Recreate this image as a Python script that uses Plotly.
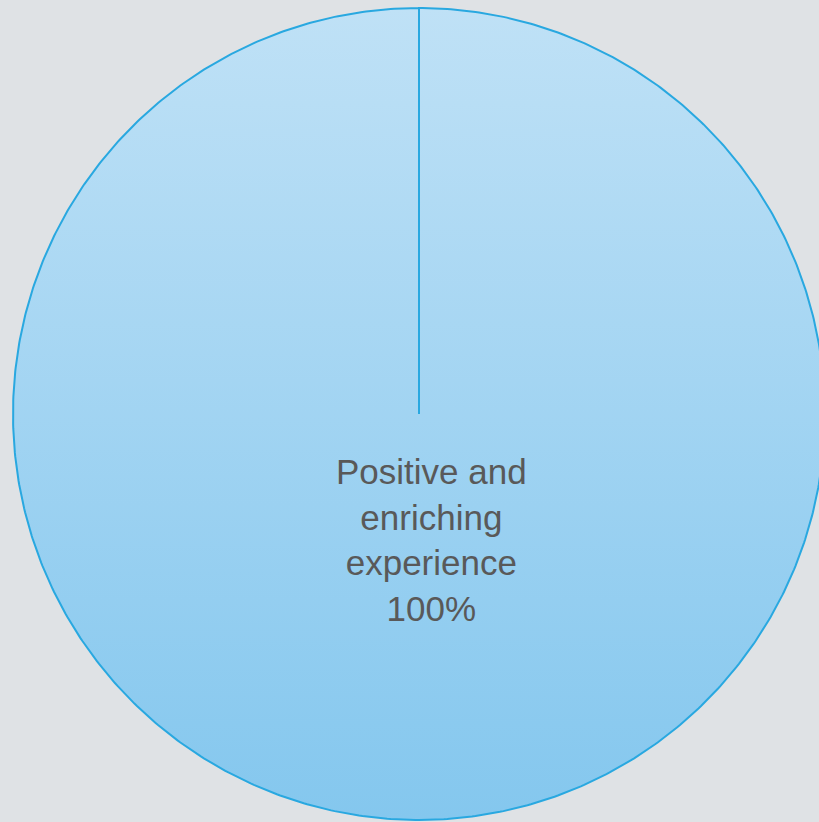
import numpy as np
import plotly.graph_objects as go

# Survey result: a single category holding the whole share
categories = ["Positive and enriching experience"]
shares = [100]
label_lines = ["Positive and", "enriching", "experience"]

W, H = 819, 822
CX, CY, R = 419, H - 414, 406  # pie centre and radius (pixel-sized units)
BG = "#dfe2e5"
EDGE = "#29a8e0"
TEXT = "#595959"

fig = go.Figure()

total = float(sum(shares))
start = 0.0
for cat, val in zip(categories, shares):
    frac = val / total
    # clockwise sweep from 12 o'clock
    theta = np.deg2rad(90 - 360 * np.linspace(start, start + frac, 721))
    xs = np.concatenate([[CX], CX + R * np.cos(theta), [CX]])
    ys = np.concatenate([[CY], CY + R * np.sin(theta), [CY]])
    fig.add_trace(go.Scatter(
        x=xs, y=ys, mode="lines", fill="toself",
        line=dict(color=EDGE, width=2),
        fillgradient=dict(type="vertical",
                          colorscale=[[0, "#84c7ee"], [1, "#bfe1f6"]]),
        name=cat, hoverinfo="name", showlegend=False,
    ))
    start += frac

# slice label: name wrapped over three lines plus the percentage
pct = f"{shares[0] / total * 100:.0f}%"
fig.add_annotation(
    x=431, y=H - 540, xref="x", yref="y",
    text="<br>".join(label_lines + [pct]),
    showarrow=False, align="center",
    font=dict(family="Liberation Sans, Arial, sans-serif", size=35, color=TEXT),
)

fig.update_xaxes(range=[0, W], visible=False, fixedrange=True)
fig.update_yaxes(range=[0, H], visible=False, fixedrange=True)
fig.update_layout(
    width=W, height=H,
    margin=dict(l=0, r=0, t=0, b=0),
    paper_bgcolor=BG, plot_bgcolor=BG,
    showlegend=False,
)

fig.write_html("out.html")
